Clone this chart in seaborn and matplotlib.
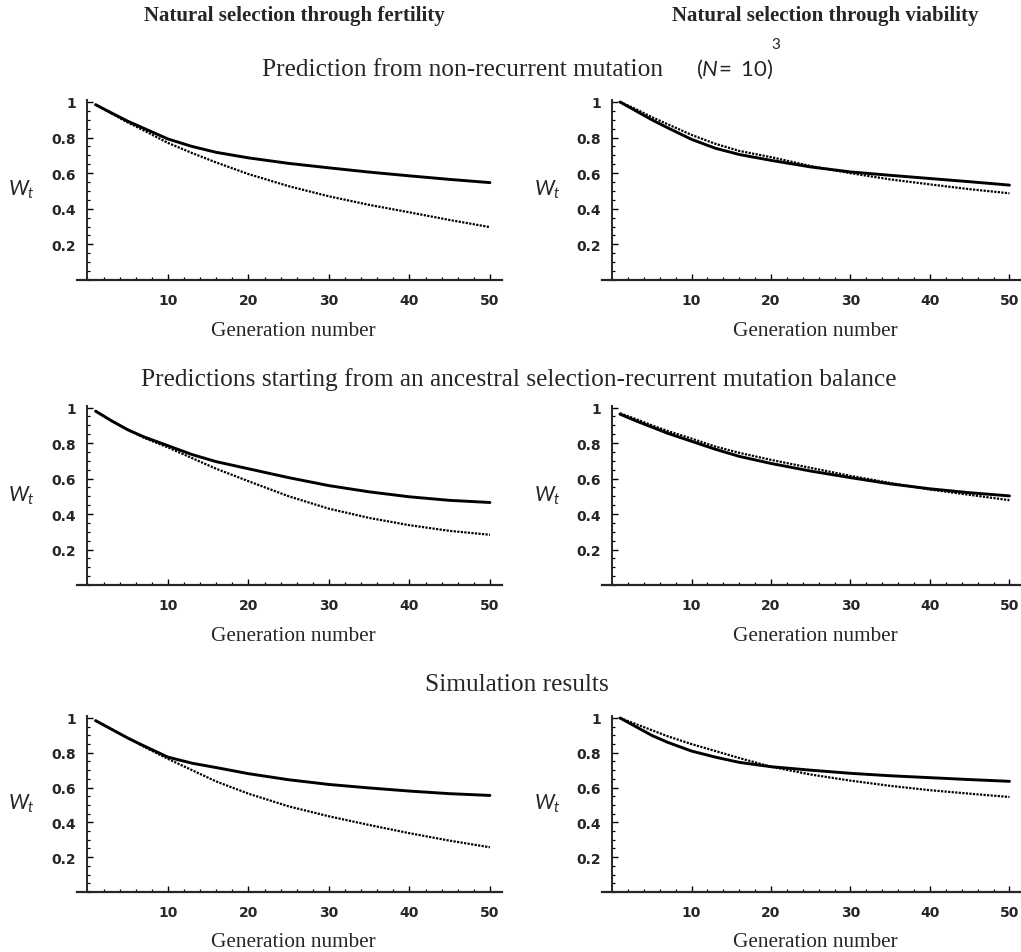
import numpy as np
import matplotlib
matplotlib.use('Agg')
import matplotlib.pyplot as plt
import seaborn as sns
from matplotlib.ticker import MultipleLocator, FixedLocator, FuncFormatter

gen = [1, 3, 5, 7, 10, 13, 16, 20, 25, 30, 35, 40, 45, 50]

# row 1: prediction from non-recurrent mutation
fert_nonrec_solid = [0.985, 0.938, 0.892, 0.852, 0.792, 0.75, 0.717, 0.686, 0.655, 0.63, 0.606, 0.585, 0.565, 0.547]
fert_nonrec_dot = [0.985, 0.935, 0.885, 0.84, 0.77, 0.713, 0.66, 0.595, 0.527, 0.47, 0.422, 0.38, 0.337, 0.297]
via_nonrec_solid = [1.0, 0.95, 0.9, 0.855, 0.79, 0.74, 0.705, 0.672, 0.635, 0.607, 0.588, 0.57, 0.552, 0.533]
via_nonrec_dot = [1.0, 0.96, 0.915, 0.875, 0.815, 0.765, 0.725, 0.69, 0.64, 0.6, 0.565, 0.537, 0.51, 0.487]

# row 2: starting from selection-recurrent mutation balance
fert_bal_solid = [0.98, 0.925, 0.875, 0.835, 0.785, 0.735, 0.695, 0.655, 0.605, 0.56, 0.525, 0.497, 0.477, 0.465]
fert_bal_dot = [0.98, 0.925, 0.875, 0.83, 0.775, 0.715, 0.655, 0.585, 0.5, 0.43, 0.378, 0.337, 0.305, 0.283]
via_bal_solid = [0.963, 0.925, 0.89, 0.855, 0.81, 0.765, 0.725, 0.685, 0.642, 0.605, 0.57, 0.542, 0.52, 0.502]
via_bal_dot = [0.968, 0.935, 0.9, 0.868, 0.825, 0.78, 0.745, 0.705, 0.66, 0.615, 0.575, 0.538, 0.508, 0.478]

# row 3: simulation results
fert_sim_solid = [0.985, 0.935, 0.885, 0.84, 0.775, 0.74, 0.715, 0.68, 0.645, 0.618, 0.598, 0.58, 0.565, 0.555]
fert_sim_dot = [0.985, 0.935, 0.885, 0.835, 0.765, 0.7, 0.635, 0.565, 0.492, 0.435, 0.385, 0.338, 0.295, 0.257]
via_sim_solid = [1.0, 0.95, 0.9, 0.86, 0.81, 0.775, 0.745, 0.72, 0.7, 0.682, 0.668, 0.657, 0.646, 0.636]
via_sim_dot = [1.0, 0.965, 0.93, 0.895, 0.85, 0.81, 0.77, 0.72, 0.675, 0.64, 0.61, 0.585, 0.565, 0.546]

col_titles = ['Natural selection through fertility', 'Natural selection through viability']
row_titles = ['Prediction from non-recurrent mutation',
              'Predictions starting from an ancestral selection-recurrent mutation balance',
              'Simulation results']
x_ticks = [10, 20, 30, 40, 50]
y_ticks = [0.2, 0.4, 0.6, 0.8, 1.0]

sns.set_style('ticks')
plt.rcParams['font.family'] = ['Liberation Serif', 'DejaVu Serif']
plt.rcParams['mathtext.fontset'] = 'custom'
plt.rcParams['mathtext.rm'] = 'Lato'
plt.rcParams['mathtext.it'] = 'Lato:italic'

W, H = 1021, 953
fig = plt.figure(figsize=(W / 100, H / 100), dpi=100)

# axes boxes in pixels
lefts = [(77, 425), (601.7, 419.7)]
rows = [(281, 181.6), (586, 181), (893, 177.5)]

panels = [
    [(fert_nonrec_solid, fert_nonrec_dot), (via_nonrec_solid, via_nonrec_dot)],
    [(fert_bal_solid, fert_bal_dot), (via_bal_solid, via_bal_dot)],
    [(fert_sim_solid, fert_sim_dot), (via_sim_solid, via_sim_dot)],
]

dot_style = (0, (1, 0.6))

for r, (ybase, hgt) in enumerate(rows):
    for c, (xl, wid) in enumerate(lefts):
        ax = fig.add_axes([xl / W, 1 - ybase / H, wid / W, hgt / H])
        solid, dot = panels[r][c]
        sns.lineplot(x=gen, y=solid, ax=ax, color='black', lw=2.1)
        sns.lineplot(x=gen, y=dot, ax=ax, color='black', lw=1.6, linestyle=dot_style)
        ax.set_xlim(-1.3, 51.5)
        ax.set_ylim(0, 1.02)
        for s in ['top', 'right']:
            ax.spines[s].set_visible(False)
        ax.spines['left'].set_position(('data', 0))
        ax.spines['left'].set_bounds(0, 1.01)
        ax.spines['left'].set_linewidth(1.4)
        ax.spines['bottom'].set_linewidth(1.6)
        ax.xaxis.set_major_locator(FixedLocator(x_ticks))
        ax.xaxis.set_minor_locator(MultipleLocator(2))
        ax.yaxis.set_major_locator(FixedLocator(y_ticks))
        ax.yaxis.set_minor_locator(MultipleLocator(0.05))
        ax.yaxis.set_major_formatter(FuncFormatter(lambda v, p: f'{v:g}'))
        ax.tick_params(which='major', direction='in', length=4, width=1.0, color='black')
        ax.tick_params(which='minor', direction='in', length=2.2, width=0.9, color='black')
        ax.tick_params(axis='y', which='major', pad=8)
        ax.tick_params(axis='x', which='major', pad=9.5)
        for lab in ax.get_xticklabels() + ax.get_yticklabels():
            lab.set_family('DejaVu Sans')
            lab.set_weight('bold')
            lab.set_fontsize(10)
        ax.set_xlabel('Generation number', fontsize=15.3)
        ax.xaxis.set_label_coords(0.51, -0.225)
        ax.set_ylabel(r'$W_{t}$', fontsize=15, rotation=0, va='center', ha='center')
        ax.yaxis.set_label_coords(-0.13, 0.5)
        ax.set_facecolor('none')

fig.text(294 / W, 1 - 16 / H, col_titles[0], fontsize=15, weight='bold', ha='center', va='center')
fig.text(825 / W, 1 - 16 / H, col_titles[1], fontsize=15, weight='bold', ha='center', va='center')

fig.text(462 / W, 1 - 70 / H, row_titles[0], fontsize=18.3, ha='center', va='center')
fig.text(696 / W, 1 - 69 / H, r'$(N\!=\ 10)$', fontsize=16, ha='left', va='center')
fig.text(771 / W, 1 - 45 / H, '3', fontsize=11, ha='left', va='center', family='Lato')
fig.text(519 / W, 1 - 380 / H, row_titles[1], fontsize=18.3, ha='center', va='center')
fig.text(517 / W, 1 - 685 / H, row_titles[2], fontsize=18.3, ha='center', va='center')

fig.savefig('out.png', dpi=100, facecolor='white')
